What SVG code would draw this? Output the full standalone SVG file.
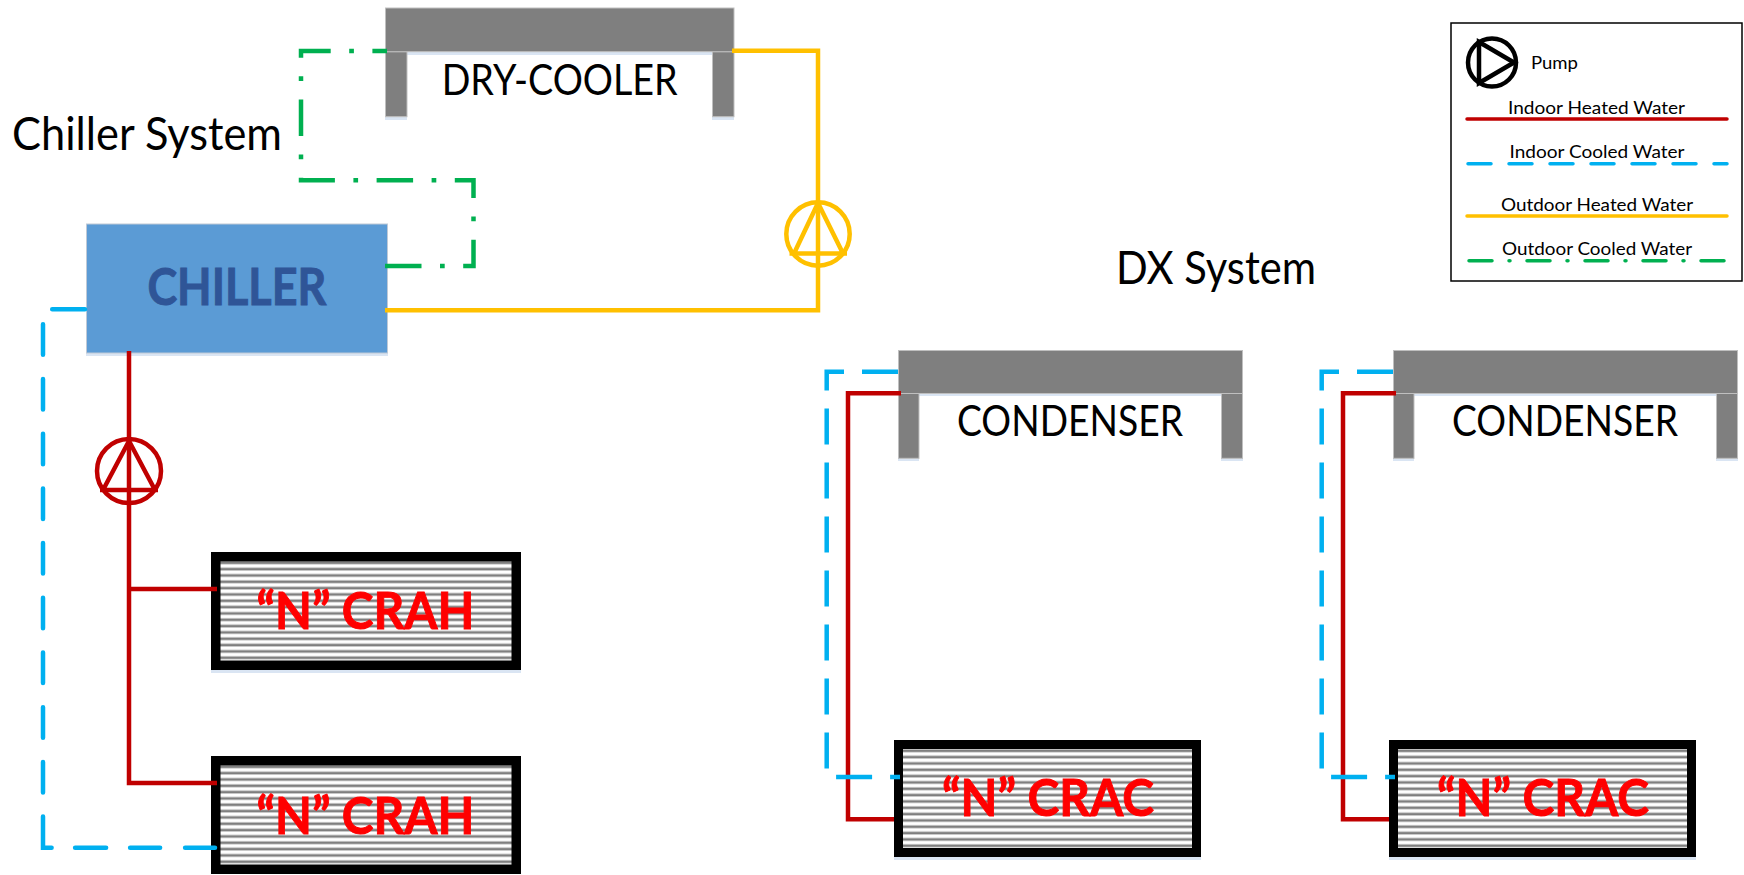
<svg xmlns="http://www.w3.org/2000/svg" width="1744" height="875" viewBox="0 0 1744 875">
<style>
text{font-family:"Lato","Liberation Sans",sans-serif;fill:#000}
.b{font-weight:700;font-size:51px;fill:#f00;stroke:#f00;stroke-width:0.9}
.big{font-size:46px}
.lbl{font-size:42px}
.leg{font-size:18px}
.gray{fill:#7f7f7f;stroke:#bfbfbf;stroke-width:1}
.sh{fill:#dae5f3}
.frame{fill:#000}
.c{fill:none;stroke-width:4.5;stroke-linejoin:miter}
.red{stroke:#c00000}.blue{stroke:#00b0f0}.yel{stroke:#ffc000}.grn{stroke:#00b050}
.dx{stroke-dasharray:36 18}
.lg{fill:none;stroke-width:3.5;stroke-linecap:round}
.pump{fill:none;stroke-width:4.5}
</style>
<defs>
<pattern id="h" patternUnits="userSpaceOnUse" width="10" height="6.33">
<rect width="10" height="6.33" fill="#fff"/>
<rect y="2.6" width="10" height="0.8" fill="#c4c4c4"/>
<rect y="3.4" width="10" height="2.2" fill="#7f7f7f"/>
<rect y="5.6" width="10" height="0.73" fill="#c4c4c4"/>
</pattern>
</defs>
<rect width="1744" height="875" fill="#fff"/>
<text class="big" x="12" y="150" textLength="270" lengthAdjust="spacingAndGlyphs">Chiller System</text>
<text class="big" x="1116" y="284" textLength="200" lengthAdjust="spacingAndGlyphs">DX System</text>

<g id="dry-cooler">
<rect class="sh" x="385" y="52" width="349" height="3"/><rect class="sh" x="385" y="117" width="22" height="3"/><rect class="sh" x="712" y="117" width="22" height="3"/>
<rect class="gray" x="385.5" y="51.7" width="21.5" height="65"/><rect class="gray" x="712.5" y="51.7" width="21.5" height="65"/>
<rect class="gray" x="385.5" y="8" width="348.5" height="43.7"/>
<text class="lbl" x="441.7" y="94.5" textLength="236" lengthAdjust="spacingAndGlyphs">DRY-COOLER</text>
</g>
<g id="chiller">
<rect class="sh" x="86" y="352" width="302" height="4"/>
<rect x="86.5" y="224" width="301" height="129" fill="#5b9bd5" stroke="#bfc9d6"/>
<text class="b" x="147.4" y="305" textLength="179" lengthAdjust="spacingAndGlyphs" style="fill:#2f5597;stroke:#2f5597">CHILLER</text>
</g>
<g id="crah-1" transform="translate(211 552)">
<rect class="sh" y="118" width="310" height="3"/>
<rect class="frame" width="310" height="118"/><rect x="9.5" y="9.5" width="291" height="99" fill="url(#h)"/>
<text class="b" x="45.5" y="77" textLength="218" lengthAdjust="spacingAndGlyphs">“N” CRAH</text>
</g>
<g id="crah-2" transform="translate(211 756)">
<rect class="frame" width="310" height="118"/><rect x="9.5" y="9.5" width="291" height="99" fill="url(#h)"/>
<text class="b" x="45.5" y="78" textLength="218" lengthAdjust="spacingAndGlyphs">“N” CRAH</text>
</g>
<g id="condenser-1" transform="translate(898 350)">
<rect class="sh" y="43" width="345" height="3"/><rect class="sh" y="108" width="21" height="3"/><rect class="sh" x="323" y="108" width="22" height="3"/>
<rect class="gray" x="0.5" y="43.3" width="20.5" height="65"/><rect class="gray" x="323.5" y="43.3" width="21" height="65"/>
<rect class="gray" x="0.5" y="0.5" width="344" height="43"/>
<text class="lbl" x="59" y="86" textLength="226" lengthAdjust="spacingAndGlyphs">CONDENSER</text>
</g>
<g id="condenser-2" transform="translate(1393 350)">
<rect class="sh" y="43" width="345" height="3"/><rect class="sh" y="108" width="21" height="3"/><rect class="sh" x="323" y="108" width="22" height="3"/>
<rect class="gray" x="0.5" y="43.3" width="20.5" height="65"/><rect class="gray" x="323.5" y="43.3" width="21" height="65"/>
<rect class="gray" x="0.5" y="0.5" width="344" height="43"/>
<text class="lbl" x="59" y="86" textLength="226" lengthAdjust="spacingAndGlyphs">CONDENSER</text>
</g>
<g id="crac-1" transform="translate(894 740)">
<rect class="sh" y="117" width="307" height="3"/>
<rect class="frame" width="307" height="117"/><rect x="9" y="9" width="289" height="99" fill="url(#h)"/>
<text class="b" x="48" y="76" textLength="212" lengthAdjust="spacingAndGlyphs">“N” CRAC</text>
</g>
<g id="crac-2" transform="translate(1389 740)">
<rect class="sh" y="117" width="307" height="3"/>
<rect class="frame" width="307" height="117"/><rect x="9" y="9" width="289" height="99" fill="url(#h)"/>
<text class="b" x="48" y="76" textLength="212" lengthAdjust="spacingAndGlyphs">“N” CRAC</text>
</g>

<g id="connectors">
<path class="c grn" stroke-dasharray="36.5 18.5 4.7 18.5" d="M385 266H473.5V180.3H301V51H387"/>
<path class="c yel" d="M385 310.3H818V50.7H732"/>
<path class="c red" d="M129 351V783H217M129 589H217"/>
<path class="c blue" stroke-linecap="round" stroke-dasharray="32.8 24.2 30.5 24.2 30.5 24.2 30.5 24.2 30.5 24.2 30.5 24.2 30.5 24.2 30.5 24.2 30.5 24.2 30.5 24.2 39.7 23.5 31 24 30 25 30" d="M85 309.3H43V847.7H215"/>
<path class="c red" d="M901 393.3H848V819.3H894"/>
<path class="c blue dx" d="M898 371.7H826.7V777H900"/>
<path class="c red" d="M1396 393.3H1343V819.3H1389"/>
<path class="c blue dx" d="M1393 371.7H1321.7V777H1395"/>
</g>

<g id="pump-outdoor" class="pump" stroke="#ffc000">
<circle cx="818" cy="234" r="31.7"/>
<path d="M818 203L794 253.5M818 203L843 253.5M789.5 253.5H847"/>
</g>
<g id="pump-indoor" class="pump" stroke="#c00000">
<circle cx="129" cy="471" r="32"/>
<path d="M129 441L103 490M129 441L155 490M100 490H158"/>
</g>

<g id="legend">
<rect x="1451" y="23" width="291" height="258" fill="#fff" stroke="#000" stroke-width="1.5"/>
<g class="pump" stroke="#000"><circle cx="1492" cy="62.5" r="24"/><path d="M1479 42V83L1514 62.5Z"/></g>
<text class="leg" x="1531" y="69" textLength="47" lengthAdjust="spacingAndGlyphs">Pump</text>
<text class="leg" x="1508" y="114" textLength="177" lengthAdjust="spacingAndGlyphs">Indoor Heated Water</text>
<path class="lg red" d="M1467 119H1727"/>
<text class="leg" x="1509.5" y="158" textLength="175" lengthAdjust="spacingAndGlyphs">Indoor Cooled Water</text>
<path class="lg blue" stroke-dasharray="23 18" d="M1468 163.7H1727"/>
<text class="leg" x="1501" y="211" textLength="192" lengthAdjust="spacingAndGlyphs">Outdoor Heated Water</text>
<path class="lg yel" d="M1467 216H1727"/>
<text class="leg" x="1502" y="255" textLength="190" lengthAdjust="spacingAndGlyphs">Outdoor Cooled Water</text>
<path class="lg grn" stroke-dasharray="23 17 1 17" d="M1469 260.7H1725"/>
</g>
</svg>
